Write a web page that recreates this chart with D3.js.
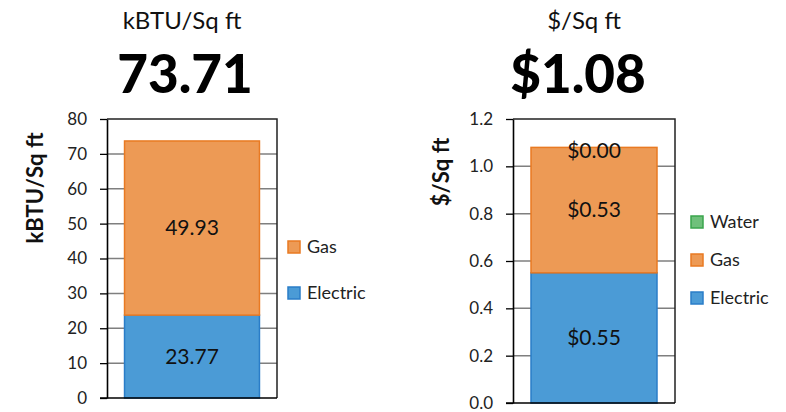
<!DOCTYPE html>
<html>
<head>
<meta charset="utf-8">
<script src="https://cdn.jsdelivr.net/npm/d3@7"></script>
<style>
  html, body { margin: 0; padding: 0; background: #fff; }
  svg { display: block; font-family: Lato, "Open Sans", sans-serif; }
</style>
</head>
<body>
<svg id="chart" width="786" height="412"></svg>
<script>
// Energy intensity (kBTU per square foot), stacked bottom to top
const energySeries = ["Electric", "Gas"];
const energyValues = [23.77, 49.93];
const energyTotal = "73.71";
const energyTicks = [0, 10, 20, 30, 40, 50, 60, 70, 80];

// Cost intensity ($ per square foot), stacked bottom to top
const costSeries = ["Electric", "Gas", "Water"];
const costValues = [0.55, 0.53, 0.00];
const costTotal = "$1.08";
const costTicks = [0, 0.2, 0.4, 0.6, 0.8, 1.0, 1.2];

const fills = { Electric: "#4b9bd6", Gas: "#ed9a55", Water: "#6fc07b" };
const strokes = { Electric: "#2a7dc8", Gas: "#e97a22", Water: "#3aa54c" };

const svg = d3.select("#chart");

function panel(opts) {
  const g = svg.append("g");
  const y = d3.scaleLinear().domain(opts.domain).range([opts.bottom, opts.top]);
  const x = d3.scaleBand().domain(["all"]).range([opts.left, opts.right])
    .paddingInner(opts.pad).paddingOuter(opts.pad);

  // headline
  g.append("text").attr("x", opts.titleX).attr("y", 29).attr("text-anchor", "middle")
    .attr("font-size", 24).attr("fill", "#111").text(opts.title);
  g.append("text").attr("x", opts.totalX).attr("y", 93).attr("text-anchor", "middle")
    .attr("font-size", 53).attr("font-weight", 900).attr("fill", "#000").text(opts.total);

  // gridlines
  g.append("g").selectAll("line").data(opts.ticks.slice(1, -1)).join("line")
    .attr("x1", opts.left).attr("x2", opts.right)
    .attr("y1", d => y(d)).attr("y2", d => y(d))
    .attr("stroke", "#7f7f7f").attr("stroke-width", 1.5);

  // stacked segments
  let acc = 0;
  const segs = opts.series.map((s, i) => {
    const seg = { key: s, y0: acc, y1: acc + opts.values[i], v: opts.values[i] };
    acc += opts.values[i];
    return seg;
  });
  g.append("g").selectAll("rect").data(segs.filter(d => d.v > 0)).join("rect")
    .attr("x", x("all")).attr("width", x.bandwidth())
    .attr("y", d => y(d.y1)).attr("height", d => y(d.y0) - y(d.y1))
    .attr("fill", d => fills[d.key]).attr("stroke", d => strokes[d.key]).attr("stroke-width", 1.5);

  g.append("g").selectAll("text").data(segs).join("text")
    .attr("x", x("all") + x.bandwidth() / 2)
    .attr("y", d => (y(d.y0) + y(d.y1)) / 2 + (d.v > 0 ? 0 : 3))
    .attr("dy", "0.35em").attr("text-anchor", "middle")
    .attr("font-size", 21).attr("fill", "#111").text(d => opts.fmt(d.v));

  // frame: top and right edges
  g.append("path")
    .attr("d", `M${opts.left},${opts.top}H${opts.right}V${opts.bottom}`)
    .attr("fill", "none").attr("stroke", "#222").attr("stroke-width", 1.5);

  // axes
  const yAxis = d3.axisLeft(y).tickValues(opts.ticks).tickFormat(opts.tickFmt)
    .tickSizeInner(7).tickSizeOuter(0).tickPadding(13);
  const ya = g.append("g").attr("transform", `translate(${opts.left},0)`).call(yAxis);
  ya.select(".domain").attr("stroke", "#000").attr("stroke-width", 1.6);
  ya.selectAll(".tick line").attr("stroke", "#000").attr("stroke-width", 1.3);
  ya.selectAll(".tick text").attr("font-size", 17).attr("fill", "#222")
    .attr("font-family", "Lato, sans-serif");

  const xAxis = d3.axisBottom(x).tickSize(0).tickFormat("");
  const xa = g.append("g").attr("transform", `translate(0,${opts.bottom})`).call(xAxis);
  xa.select(".domain").attr("stroke", "#000").attr("stroke-width", 1.6)
    .attr("d", `M${opts.left - 7},0H${opts.right}`);

  // axis title
  g.append("text")
    .attr("transform", `translate(${opts.axisTitleX},${opts.axisTitleY}) rotate(-90)`)
    .attr("text-anchor", "middle").attr("font-size", 22).attr("font-weight", 700)
    .attr("fill", "#111").text(opts.title);

  // legend (top entry = last series)
  const leg = g.append("g").selectAll("g").data(opts.series.slice().reverse()).join("g")
    .attr("transform", (d, i) => `translate(${opts.legendX},${opts.legendY + i * opts.legendStep})`);
  leg.append("rect").attr("width", 12).attr("height", 12)
    .attr("fill", d => fills[d]).attr("stroke", d => strokes[d]).attr("stroke-width", 1.5);
  leg.append("text").attr("x", 19).attr("y", 6).attr("dy", "0.36em")
    .attr("font-size", 18).attr("fill", "#222").text(d => d);
}

panel({
  title: "kBTU/Sq ft", total: energyTotal, titleX: 182, totalX: 185,
  series: energySeries, values: energyValues, ticks: energyTicks,
  domain: [0, 80], top: 119, bottom: 398, left: 107, right: 277, pad: 0.115,
  fmt: d3.format(".2f"), tickFmt: d3.format("d"),
  axisTitleX: 43, axisTitleY: 188,
  legendX: 288, legendY: 241, legendStep: 46
});

panel({
  title: "$/Sq ft", total: costTotal, titleX: 584, totalX: 578,
  series: costSeries, values: costValues, ticks: costTicks,
  domain: [0, 1.2], top: 119, bottom: 403, left: 513, right: 675, pad: 0.125,
  fmt: d => "$" + d3.format(".2f")(d), tickFmt: d3.format(".1f"),
  axisTitleX: 449, axisTitleY: 172,
  legendX: 691, legendY: 216, legendStep: 38
});
</script>
</body>
</html>
